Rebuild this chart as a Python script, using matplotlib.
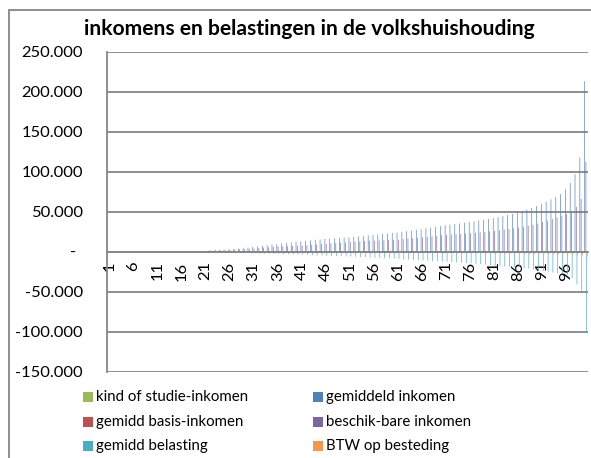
import matplotlib
matplotlib.use('Agg')
import matplotlib.pyplot as plt
from matplotlib.patches import Rectangle
import numpy as np

# ---------------- data ----------------
categories = list(range(1, 101))

series_names = ['kind of studie-inkomen', 'gemiddeld inkomen', 'gemidd basis-inkomen',
                'beschik-bare inkomen', 'gemidd belasting', 'BTW op besteding']
series_colors = ['#9BBB59', '#4F81BD', '#C0504D', '#8064A2', '#4BACC6', '#F79646']

kind_studie = [0, 0, 0, 0, 0, 0, 0, 0, 0, 0,
               0, 0, 0, 0, 0, 0, 0, 0, 0, 0,
               0, 0, 0, 0, 0, 0, 0, 0, 0, 0,
               0, 0, 0, 0, 0, 0, 0, 0, 0, 0,
               0, 0, 0, 0, 0, 0, 0, 0, 0, 0,
               0, 0, 0, 0, 0, 0, 0, 0, 0, 0,
               0, 0, 0, 0, 0, 0, 0, 0, 0, 0,
               0, 0, 0, 0, 0, 0, 0, 0, 0, 0,
               0, 0, 0, 0, 0, 0, 0, 0, 0, 0,
               0, 0, 0, 0, 0, 0, 0, 0, 0, 0]

gemiddeld_inkomen = [0, 0, 0, 0, 0, 0, 0, 0, 0, 0,
                     0, 0, 0, 0, 0, 0, 0, 0, 0, 0,
                     0, 1500, 1800, 2000, 2300, 2600, 3200, 3800, 4500, 5200,
                     6000, 6700, 7400, 8100, 8800, 9500, 10200, 10900, 11600, 12300,
                     13000, 13600, 14200, 14800, 15400, 16000, 16400, 16800, 17200, 17600,
                     18000, 18600, 19200, 19800, 20400, 21000, 21600, 22200, 22800, 23400,
                     24000, 24800, 25600, 26400, 27200, 28000, 29000, 30000, 31000, 32000,
                     33000, 33800, 34600, 35400, 36200, 37000, 38000, 39000, 40000, 41000,
                     42000, 43300, 44600, 45900, 47200, 49000, 50800, 52600, 54800, 57200,
                     60000, 62500, 65500, 68500, 72000, 78000, 86000, 97000, 118000, 213000]

basis_inkomen = [0, 0, 0, 0, 0, 0, 0, 0, 0, 0,
                 0, 0, 0, 0, 0, 0, 0, 0, 0, 0,
                 0, 0, 0, 0, 0, 0, 0, 0, 0, 0,
                 0, 0, 0, 0, 0, 0, 0, 0, 0, 0,
                 0, 0, 0, 0, 0, 0, 0, 0, 0, 0,
                 0, 0, 0, 0, 0, 0, 0, 0, 0, 0,
                 0, 0, 0, 0, 0, 0, 0, 0, 0, 0,
                 0, 0, 0, 0, 0, 0, 0, 0, 0, 0,
                 0, 0, 0, 0, 0, 0, 0, 0, 0, 0,
                 0, 0, 0, 0, 0, 0, 0, 0, 0, 0]

beschikbaar_inkomen = [0, 0, 0, 0, 0, 0, 0, 0, 0, 0,
                       0, 0, 0, 0, 0, 0, 0, 0, 0, 0,
                       0, 1500, 1700, 1900, 2200, 2500, 2800, 3100, 3400, 3700,
                       4000, 4500, 5000, 5500, 6000, 6500, 6800, 7000, 7200, 7400,
                       7600, 8100, 8600, 9100, 9600, 10000, 10400, 10800, 11200, 11600,
                       12000, 12400, 12800, 13200, 13600, 14000, 14200, 14400, 14600, 14800,
                       15000, 15600, 16200, 16800, 17400, 18000, 18600, 19200, 19800, 20400,
                       21000, 21400, 21800, 22200, 22600, 23000, 23600, 24200, 24800, 25400,
                       26000, 26800, 27600, 28400, 29200, 30000, 31200, 32400, 33800, 35200,
                       37000, 38800, 40800, 42800, 45000, 47000, 50000, 56000, 66000, 112000]

belasting = [0, 0, 0, 0, 0, 0, 0, 0, 0, 0,
             0, 0, 0, 0, 0, 0, 0, 0, 0, 0,
             0, -300, -500, -700, -900, -1000, -1200, -1400, -1600, -1800,
             -2000, -2200, -2400, -2600, -2700, -2800, -3000, -3200, -3400, -3600,
             -3800, -4000, -4300, -4500, -4800, -5000, -5200, -5400, -5600, -5800,
             -6000, -6300, -6600, -6900, -7200, -7500, -7800, -8100, -8400, -8700,
             -9000, -9400, -9800, -10200, -10600, -11000, -11300, -11700, -12000, -12300,
             -12500, -12900, -13300, -13700, -14100, -14500, -15000, -15500, -16000, -16700,
             -17500, -17900, -18300, -18700, -19100, -19500, -20200, -21000, -22000, -23000,
             -24000, -25000, -26000, -27000, -28000, -29000, -33000, -41000, -52000, -101000]

btw_besteding = [0, 0, 0, 0, 0, 0, 0, 0, 0, 0,
                 0, 0, 0, 0, 0, 0, 0, 0, 0, 0,
                 0, -100, -100, -150, -150, -200, -200, -250, -250, -300,
                 -300, -350, -350, -400, -400, -450, -450, -500, -500, -550,
                 -550, -600, -600, -650, -650, -700, -700, -750, -750, -800,
                 -800, -850, -850, -900, -900, -950, -950, -1000, -1000, -1050,
                 -1050, -1100, -1100, -1150, -1150, -1200, -1250, -1300, -1350, -1400,
                 -1450, -1500, -1550, -1600, -1650, -1700, -1750, -1800, -1850, -1900,
                 -2000, -2100, -2200, -2300, -2400, -2500, -2600, -2700, -2800, -2900,
                 -3000, -3100, -3200, -3300, -3400, -3500, -3700, -4000, -4500, -6000]

y_ticks = [-150000, -100000, -50000, 0, 50000, 100000, 150000, 200000, 250000]
y_ticklabels = ['-150.000', '-100.000', '-50.000', '-', '50.000', '100.000',
                '150.000', '200.000', '250.000']
x_tick_cats = [1, 6, 11, 16, 21, 26, 31, 36, 41, 46, 51, 56, 61, 66, 71, 76, 81, 86, 91, 96]

title = 'inkomens en belastingen in de volkshuishouding'

# ---------------- plot ----------------
plt.rcParams['font.family'] = ['Lato', 'DejaVu Sans']
W, H = 591, 458
fig = plt.figure(figsize=(W / 100, H / 100), dpi=100)
renderer = fig.canvas.get_renderer()


def fit_size(text, target_px, **kw):
    t = fig.text(0, 0, text, fontsize=10, **kw)
    w = t.get_window_extent(renderer).width
    t.remove()
    return 10 * target_px / w


GRID = '#868686'
# outer chart border
fig.patches.append(Rectangle((9 / W, -0.05), 1.1, 1 - 10 / H + 0.05,
                             transform=fig.transFigure, fill=False,
                             edgecolor=GRID, linewidth=1.3, zorder=0))

left, right, top, bottom = 107, 588, 51.7, 371.7
ax = fig.add_axes([left / W, 1 - bottom / H, (right - left) / W, (bottom - top) / H])
ax.set_facecolor('none')

for s in ['top', 'right']:
    ax.spines[s].set_visible(False)
ax.spines['bottom'].set_position(('data', 0))
ax.spines['left'].set_color(GRID)
ax.spines['left'].set_linewidth(1.3)
ax.spines['bottom'].set_color(GRID)
ax.spines['bottom'].set_linewidth(1.3)
ax.spines['bottom'].set_zorder(4)

all_series = [kind_studie, gemiddeld_inkomen, basis_inkomen,
              beschikbaar_inkomen, belasting, btw_besteding]
x = np.array(categories, dtype=float)
bw = 1 / 7.5
for j, (vals, col) in enumerate(zip(all_series, series_colors)):
    ax.bar(x + (j - 2.5) * bw, vals, width=bw, color=col, linewidth=0,
           zorder=3, snap=False, antialiased=True)

ax.set_xlim(0.5, 100.5)
ax.set_ylim(-150000, 250000)

tick_fs = fit_size('-100.000', 67)
leg_fs = fit_size('kind of studie-inkomen', 153)
title_fs = fit_size(title, 452, fontweight='bold')

ax.set_yticks(y_ticks)
ax.set_yticklabels(y_ticklabels, fontsize=tick_fs, color='black')
for lbl in ax.get_yticklabels():
    if lbl.get_text() == '-':
        lbl.set_x(-0.0145)
ax.yaxis.grid(True, color=GRID, linewidth=1.3, zorder=1)
ax.set_axisbelow(True)

ax.set_xticks(x_tick_cats)
ax.set_xticklabels([str(c) for c in x_tick_cats], fontsize=tick_fs)
ax.tick_params(axis='x', length=0, pad=7, labelrotation=90)
ax.tick_params(axis='y', length=0, pad=(107 - 83) * 0.72)

fig.text(309 / W, 1 - 29 / H, title, ha='center', va='center',
         fontsize=title_fs, fontweight='bold')

# legend (row-wise like the original)
leg_rows = [396.7, 421.7, 446.0]
leg_cols = [83, 313]
for k, (name, col) in enumerate(zip(series_names, series_colors)):
    r, c = k // 2, k % 2
    yc = leg_rows[r]
    x0 = leg_cols[c]
    fig.patches.append(Rectangle((x0 / W, 1 - (yc + 5) / H), 10 / W, 10 / H,
                                 transform=fig.transFigure, facecolor=col,
                                 edgecolor='none'))
    fig.text((x0 + 13) / W, 1 - yc / H, name, ha='left', va='center', fontsize=leg_fs)

fig.savefig('out.png', dpi=100)
